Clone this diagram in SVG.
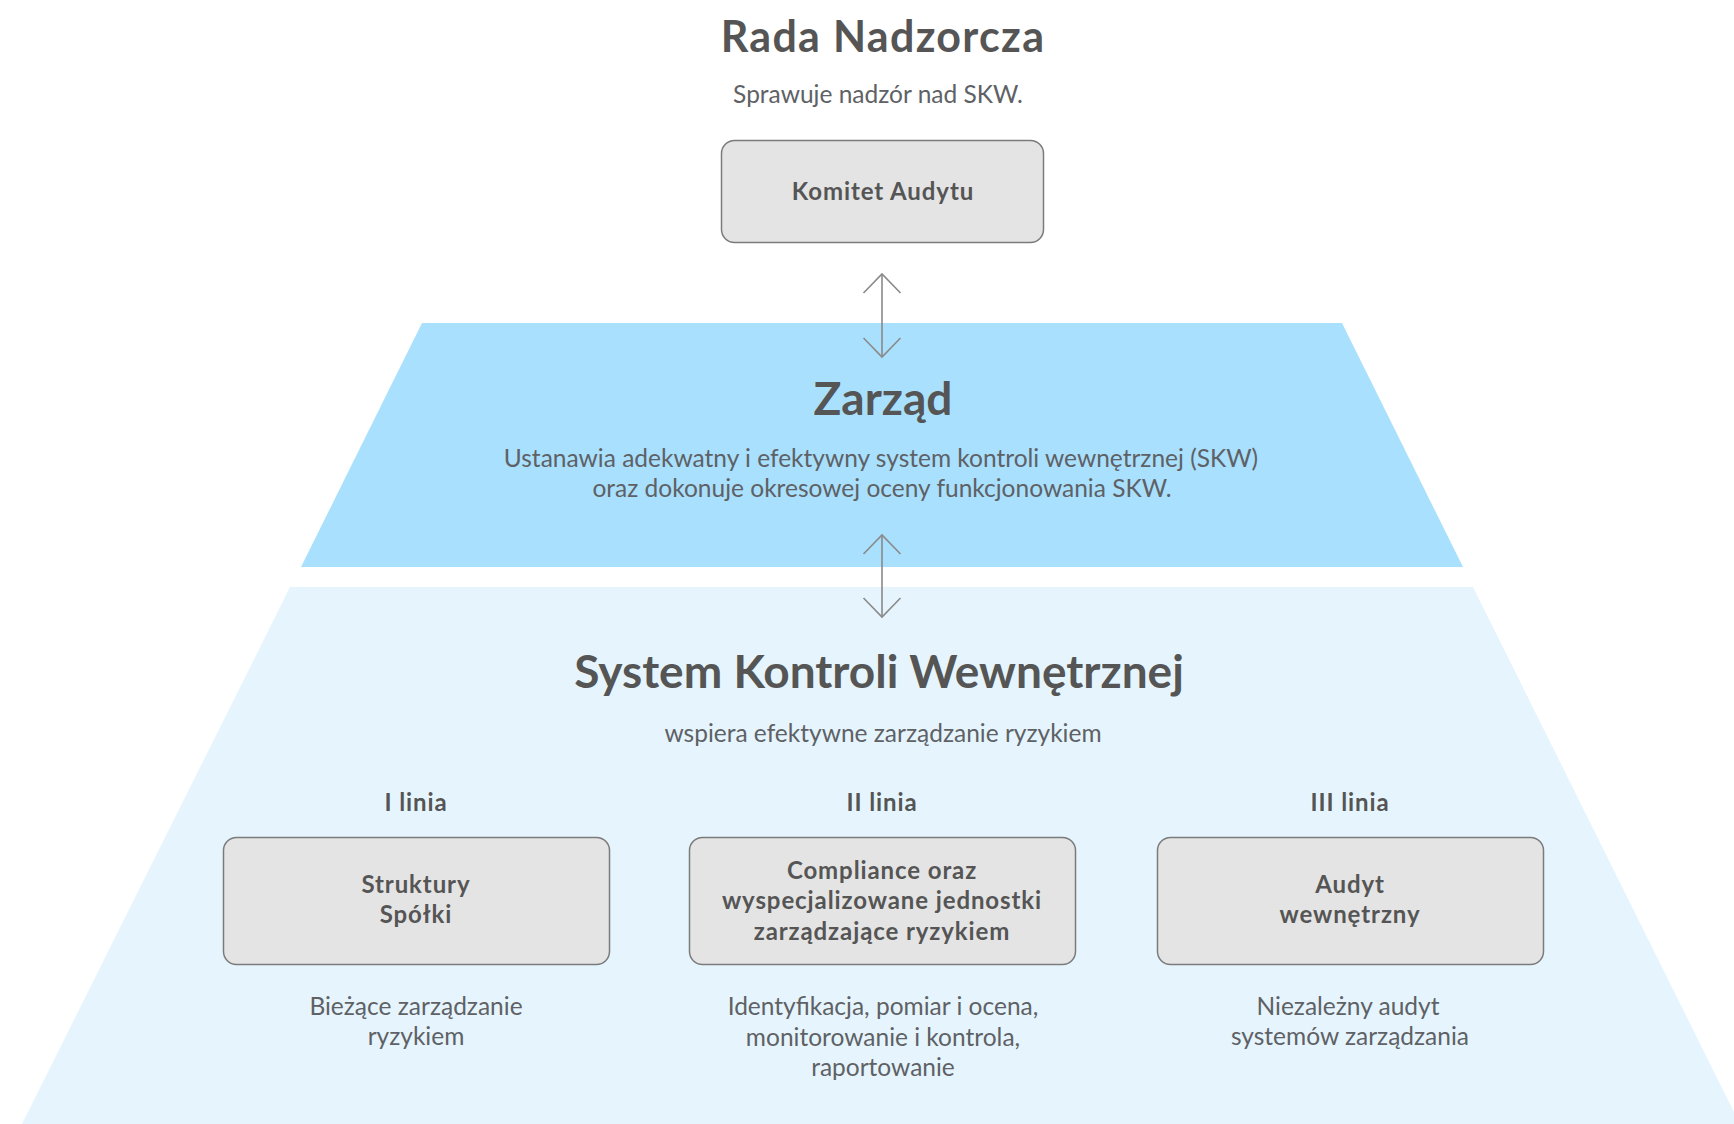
<svg xmlns="http://www.w3.org/2000/svg" width="1734" height="1124" viewBox="0 0 1734 1124">
  <defs>
    <style>
      .title { font-family: Lato, "Open Sans", sans-serif; font-weight: 700; fill: #555555; text-anchor: middle; }
      .body { font-family: Lato, "Open Sans", sans-serif; font-weight: 400; fill: #5e6165; text-anchor: middle; font-size: 24.5px; }
      .label { font-family: Lato, "Open Sans", sans-serif; font-weight: 700; fill: #555555; text-anchor: middle; font-size: 24px; letter-spacing: 0.9px; }
      .box { fill: #e4e4e4; stroke: #7b7b7b; stroke-width: 1.5; }
      .link { stroke: #8a8a8a; stroke-width: 1.6; fill: none; }
    </style>
    <marker id="chevron" markerUnits="userSpaceOnUse" viewBox="-22 -22 24 44" refX="0" refY="0" markerWidth="24" markerHeight="44" orient="auto-start-reverse">
      <path d="M -19 -18.5 L 0 0 L -19 18.5" fill="none" stroke="#8a8a8a" stroke-width="1.6"/>
    </marker>
  </defs>

  <rect width="1734" height="1124" fill="#ffffff"/>

  <!-- Supervisory board -->
  <g id="rada-nadzorcza">
    <text class="title" x="883" y="52" font-size="43" letter-spacing="1.3">Rada Nadzorcza</text>
    <text class="body" x="878" y="103">Sprawuje nadzór nad SKW.</text>
  </g>

  <g id="komitet-audytu">
    <rect class="box" x="721.5" y="140.5" width="322" height="102" rx="13"/>
    <text class="label" x="883" y="200">Komitet Audytu</text>
  </g>

  <!-- Management board tier -->
  <g id="zarzad">
    <polygon points="422,323 1342,323 1463,567 301,567" fill="#a9e0fd"/>
    <text class="title" x="883" y="415" font-size="46">Zarząd</text>
    <text class="body" x="881" y="467">Ustanawia adekwatny i efektywny system kontroli wewnętrznej (SKW)</text>
    <text class="body" x="882" y="497">oraz dokonuje okresowej oceny funkcjonowania SKW.</text>
  </g>

  <!-- Internal control system tier -->
  <g id="system-kontroli">
    <polygon points="290,587 1473,587 1740,1124 22,1124" fill="#e6f5fd"/>
    <text class="title" x="879" y="688" font-size="46">System Kontroli Wewnętrznej</text>
    <text class="body" x="883" y="742">wspiera efektywne zarządzanie ryzykiem</text>
  </g>

  <g id="linia-1">
    <text class="label" x="416" y="811">I linia</text>
    <rect class="box" x="223.5" y="837.5" width="386" height="127" rx="13"/>
    <text class="label" x="416" y="893">Struktury</text>
    <text class="label" x="416" y="923">Spółki</text>
    <text class="body" x="416" y="1015">Bieżące zarządzanie</text>
    <text class="body" x="416" y="1045">ryzykiem</text>
  </g>

  <g id="linia-2">
    <text class="label" x="882" y="811">II linia</text>
    <rect class="box" x="689.5" y="837.5" width="386" height="127" rx="13"/>
    <text class="label" x="882" y="879">Compliance oraz</text>
    <text class="label" x="882" y="909">wyspecjalizowane jednostki</text>
    <text class="label" x="882" y="940">zarządzające ryzykiem</text>
    <text class="body" x="883" y="1015">Identyfikacja, pomiar i ocena,</text>
    <text class="body" x="883" y="1046">monitorowanie i kontrola,</text>
    <text class="body" x="883" y="1076">raportowanie</text>
  </g>

  <g id="linia-3">
    <text class="label" x="1350" y="811">III linia</text>
    <rect class="box" x="1157.5" y="837.5" width="386" height="127" rx="13"/>
    <text class="label" x="1350" y="893">Audyt</text>
    <text class="label" x="1350" y="923">wewnętrzny</text>
    <text class="body" x="1348" y="1015">Niezależny audyt</text>
    <text class="body" x="1350" y="1045">systemów zarządzania</text>
  </g>

  <!-- Two-way links between the tiers -->
  <g id="connectors">
    <line class="link" x1="882" y1="274" x2="882" y2="357" marker-start="url(#chevron)" marker-end="url(#chevron)"/>
    <line class="link" x1="882" y1="535" x2="882" y2="617" marker-start="url(#chevron)" marker-end="url(#chevron)"/>
  </g>
</svg>
